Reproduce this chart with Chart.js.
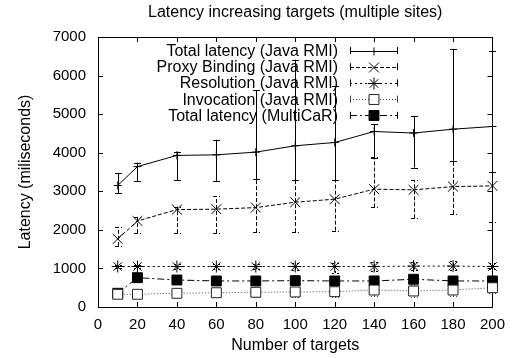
<!DOCTYPE html>
<html>
<head>
<meta charset="utf-8">
<script src="https://cdn.jsdelivr.net/npm/chart.js@4.4.1/dist/chart.umd.min.js"></script>
<style>
  html, body { margin: 0; padding: 0; background: #fff; }
</style>
</head>
<body>
<canvas id="latencyChart" width="514" height="358"></canvas>
<script>
// number of targets (x)
const targets = [10, 20, 40, 60, 80, 100, 120, 140, 160, 180, 200];

// Total latency (Java RMI)
const totalRmi     = [3150, 3640, 3930, 3945, 4015, 4180, 4265, 4550, 4510, 4610, 4680];
const totalRmiLow  = [2950, 3270, 3295, 3270, 3315, 3280, 3295, 3875, 3615, 3790, 3510];
const totalRmiHigh = [3470, 3730, 4030, 4335, 5615, 6410, 5720, 4740, 4940, 6695, 6645];

// Proxy Binding (Java RMI)
const proxyBinding     = [1765, 2230, 2525, 2536, 2577, 2717, 2795, 3055, 3037, 3122, 3140];
const proxyBindingLow  = [1585, 1915, 1915, 1920, 1940, 1940, 1980, 2580, 2300, 2415, 2215];
const proxyBindingHigh = [2070, 2345, 2600, 2865, 3310, 3280, 3300, 3880, 3280, 3780, 3510];

// Resolution (Java RMI)
const resolution     = [1050, 1050, 1050, 1050, 1050, 1050, 1050, 1050, 1060, 1060, 1050];
const resolutionLow  = [1000, 1000, 990, 990, 980, 970, 880, 930, 970, 960, 980];
const resolutionHigh = [1100, 1100, 1110, 1110, 1120, 1130, 1150, 1160, 1170, 1190, 1130];

// Invocation (Java RMI)
const invocation     = [330, 330, 355, 370, 382, 390, 397, 440, 415, 440, 500];
const invocationLow  = [290, 280, 290, 290, 270, 260, 250, 280, 270, 290, 360];
const invocationHigh = [370, 380, 420, 450, 490, 510, 530, 560, 560, 580, 620];

// Total latency (MultiCaR)
const multicar     = [356, 760, 700, 675, 675, 683, 675, 675, 719, 675, 675];
const multicarLow  = [330, 730, 670, 640, 640, 640, 620, 630, 670, 640, 640];
const multicarHigh = [380, 790, 730, 710, 710, 720, 720, 720, 760, 710, 710];

const xTicks = [0, 20, 40, 60, 80, 100, 120, 140, 160, 180, 200];
const yTicks = [0, 1000, 2000, 3000, 4000, 5000, 6000, 7000];

const seriesNames = [
  'Total latency (Java RMI)',
  'Proxy Binding (Java RMI)',
  'Resolution (Java RMI)',
  'Invocation (Java RMI)',
  'Total latency (MultiCaR)'
];

Chart.defaults.font.family = "'Liberation Sans', Arial, Helvetica, sans-serif";
Chart.defaults.color = '#000';

function series(label, values, low, high, style) {
  return Object.assign({
    label: label,
    data: targets.map((t, i) => ({ x: t, y: values[i] })),
    errLow: low,
    errHigh: high,
    borderColor: '#000',
    borderWidth: 1,
    pointBorderColor: '#000',
    pointBorderWidth: 1,
    pointBackgroundColor: '#000',
    tension: 0,
    fill: false,
    clip: false
  }, style);
}

// gnuplot style frame, inward ticks and error bars
const gnuplotFrame = {
  id: 'gnuplotFrame',
  beforeDatasetsDraw(chart) {
    const { ctx, chartArea: a, scales: { x, y } } = chart;
    ctx.save();
    ctx.strokeStyle = '#000';
    ctx.lineWidth = 1;
    ctx.beginPath();
    xTicks.forEach(v => {
      const px = Math.round(x.getPixelForValue(v)) + 0.5;
      ctx.moveTo(px, a.bottom); ctx.lineTo(px, a.bottom - 5);
      ctx.moveTo(px, a.top); ctx.lineTo(px, a.top + 5);
    });
    yTicks.forEach(v => {
      const py = Math.round(y.getPixelForValue(v)) + 0.5;
      ctx.moveTo(a.left, py); ctx.lineTo(a.left + 5, py);
      ctx.moveTo(a.right, py); ctx.lineTo(a.right - 5, py);
    });
    ctx.stroke();
    ctx.strokeRect(Math.round(a.left) + 0.5, Math.round(a.top) + 0.5,
      Math.round(a.right - a.left), Math.round(a.bottom - a.top));

    chart.data.datasets.forEach((ds, i) => {
      const meta = chart.getDatasetMeta(i);
      ctx.strokeStyle = ds.borderColor;
      ctx.setLineDash(ds.borderDash || []);
      ctx.beginPath();
      meta.data.forEach((pt, j) => {
        const px = Math.round(pt.x) + 0.5;
        const lo = y.getPixelForValue(ds.errLow[j]);
        const hi = y.getPixelForValue(ds.errHigh[j]);
        ctx.moveTo(px, lo); ctx.lineTo(px, hi);
        ctx.moveTo(px - 3.5, Math.round(lo) + 0.5); ctx.lineTo(px + 3.5, Math.round(lo) + 0.5);
        ctx.moveTo(px - 3.5, Math.round(hi) + 0.5); ctx.lineTo(px + 3.5, Math.round(hi) + 0.5);
      });
      ctx.stroke();
    });
    ctx.restore();
  },
  afterDraw(chart) {
    // key in the top right corner, text right aligned before the sample
    const { ctx } = chart;
    ctx.save();
    ctx.font = "16px 'Liberation Sans', Arial, sans-serif";
    ctx.textAlign = 'right';
    ctx.textBaseline = 'middle';
    chart.data.datasets.forEach((ds, i) => {
      const yy = 50.5 + i * 16.2;
      ctx.fillStyle = '#000';
      ctx.fillText(ds.label, 338, yy + 1);
      ctx.strokeStyle = ds.borderColor;
      ctx.lineWidth = 1;
      ctx.setLineDash(ds.borderDash || []);
      ctx.beginPath();
      ctx.moveTo(350, Math.round(yy) + 0.5); ctx.lineTo(398, Math.round(yy) + 0.5);
      ctx.stroke();
      ctx.setLineDash([]);
      ctx.beginPath();
      ctx.moveTo(350.5, yy - 3.5); ctx.lineTo(350.5, yy + 3.5);
      ctx.moveTo(397.5, yy - 3.5); ctx.lineTo(397.5, yy + 3.5);
      ctx.stroke();
      ctx.fillStyle = ds.pointBackgroundColor;
      ctx.strokeStyle = ds.pointBorderColor;
      Chart.helpers.drawPoint(ctx, {
        pointStyle: ds.pointStyle,
        radius: ds.pointRadius,
        rotation: 0,
        borderWidth: 1
      }, 374, Math.round(yy) + 0.5);
    });
    ctx.restore();
  }
};

new Chart(document.getElementById('latencyChart'), {
  type: 'line',
  data: {
    datasets: [
      series(seriesNames[0], totalRmi, totalRmiLow, totalRmiHigh,
        { pointStyle: 'cross', pointRadius: 4 }),
      series(seriesNames[1], proxyBinding, proxyBindingLow, proxyBindingHigh,
        { pointStyle: 'crossRot', pointRadius: 7, borderDash: [4, 2] }),
      series(seriesNames[2], resolution, resolutionLow, resolutionHigh,
        { pointStyle: 'star', pointRadius: 6, borderDash: [2, 3] }),
      series(seriesNames[3], invocation, invocationLow, invocationHigh,
        { pointStyle: 'rect', pointRadius: 7, borderDash: [1, 2], borderColor: '#444',
          pointBorderColor: '#222', pointBackgroundColor: '#fff' }),
      series(seriesNames[4], multicar, multicarLow, multicarHigh,
        { pointStyle: 'rect', pointRadius: 7, borderDash: [7, 3, 2, 3] })
    ]
  },
  options: {
    responsive: false,
    animation: false,
    events: [],
    layout: { padding: { left: 0, right: 20, top: 0, bottom: 0 } },
    plugins: {
      legend: { display: false },
      tooltip: { enabled: false },
      title: {
        display: true,
        text: 'Latency increasing targets (multiple sites)',
        fullSize: false,
        font: { size: 16, weight: 'normal' },
        padding: { top: 3, bottom: 14.8 }
      }
    },
    scales: {
      x: {
        type: 'linear',
        min: 0,
        max: 200,
        grid: { display: false, drawTicks: false },
        border: { display: false },
        afterBuildTicks: s => { s.ticks = xTicks.map(v => ({ value: v })); },
        afterFit: s => { s.height = 51; },
        ticks: { font: { size: 15 }, padding: 9, maxRotation: 0, callback: v => String(v) },
        title: {
          display: true,
          text: 'Number of targets',
          font: { size: 16 },
          padding: { top: 0, bottom: 3 }
        }
      },
      y: {
        min: 0,
        max: 7000,
        grid: { display: false, drawTicks: false },
        border: { display: false },
        afterBuildTicks: s => { s.ticks = yTicks.map(v => ({ value: v })); },
        afterFit: s => { s.width = 98; },
        ticks: { font: { size: 15 }, padding: 12, callback: v => String(v) },
        title: {
          display: true,
          text: 'Latency (miliseconds)',
          font: { size: 16 },
          padding: { top: 16, bottom: 0 }
        }
      }
    }
  },
  plugins: [gnuplotFrame]
});
</script>
</body>
</html>
